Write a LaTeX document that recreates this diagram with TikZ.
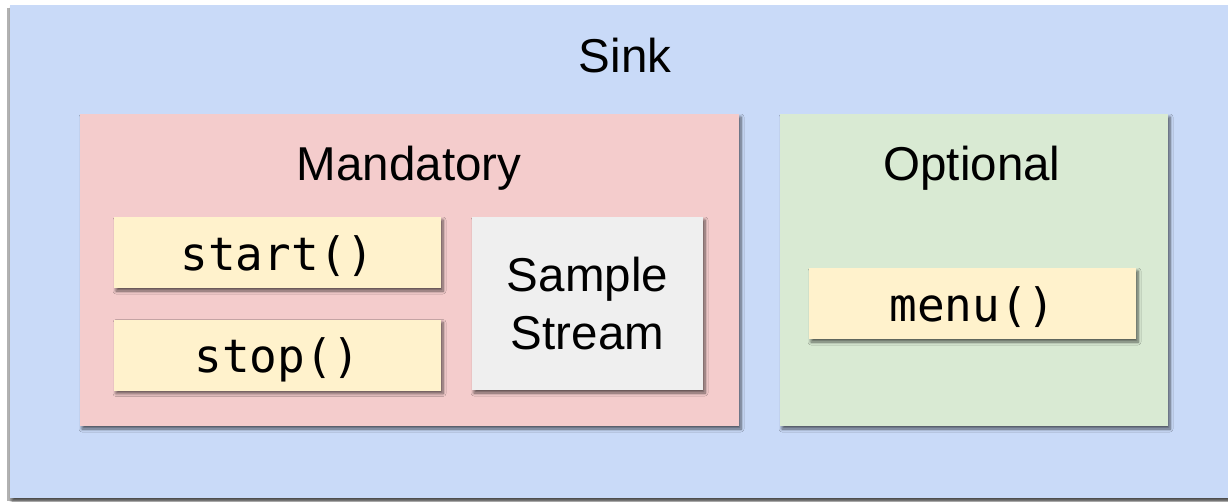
\documentclass[tikz,border=0pt]{standalone}
\usepackage{fontspec}
\setmainfont{Liberation Sans}
\setmonofont{DejaVu Sans Mono}
\usetikzlibrary{positioning,shadows.blur}
\definecolor{sinkblue}{HTML}{C9DAF8}
\definecolor{mandred}{HTML}{F4CCCC}
\definecolor{optgreen}{HTML}{D9EAD3}
\definecolor{codeyellow}{HTML}{FFF2CC}
\definecolor{streamgray}{HTML}{EFEFEF}
\begin{document}
\begin{tikzpicture}[
    x=1pt, y=-1pt,
    shade/.style={blur shadow={shadow xshift=2pt, shadow yshift=-3pt, shadow blur steps=6, shadow blur radius=3pt, shadow opacity=60}},
    group/.style={rectangle, inner sep=0pt, shade},
    title/.style={font=\fontsize{47.5}{56}\selectfont, inner sep=0pt, anchor=base},
    call/.style={rectangle, fill=codeyellow, inner sep=0pt, text width=327pt, align=center, text height=53pt, text depth=18pt, font=\fontsize{46}{54}\selectfont\ttfamily, shade},
]
\useasboundingbox (0,0) rectangle (1228,501);
\fill[gray!60] (7,8) rectangle (1228,501);
\node[group, fill=sinkblue, minimum width=1218pt, minimum height=493pt] (sink) at (619,251.5) {};
\node[title] (sinkt) at (625,72) {Sink};

% mandatory part
\node[group, fill=mandred, minimum width=659pt, minimum height=312pt] (mand) at (409.5,270) {};
\node[title] (mandt) at (409,180) {Mandatory};
\node[call] (start) at (277.5,252.5) {start()};
\node[call] (stop) at (277.5,355) {stop()};
\node[rectangle, fill=streamgray, inner sep=0pt, minimum width=231pt, minimum height=173pt, align=center, font=\fontsize{47.5}{58}\selectfont, shade] (stream) at (587.5,303.5) {Sample\\Stream};

% optional part
\node[group, fill=optgreen, minimum width=388pt, minimum height=312pt] (opt) at (974,270) {};
\node[title] (optt) at (972,180) {Optional};
\node[call] (menu) at (972.5,303.5) {menu()};
\end{tikzpicture}
\end{document}
